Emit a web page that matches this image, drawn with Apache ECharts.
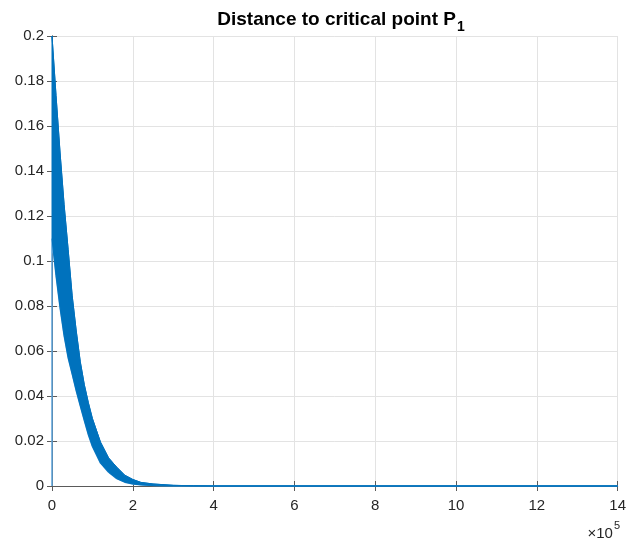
<html>
  <head>
    <meta charset="utf-8">
    <title>Distance to critical point</title>
    <script src="https://cdn.jsdelivr.net/npm/echarts@6.0.0/dist/echarts.min.js"></script>
    <style>
      html, body { margin: 0; padding: 0; background: #fff; }
      #main { width: 629px; height: 546px; }
    </style>
  </head>
  <body>
    <div id="main"></div>
    <script type="text/javascript">
      // x in units of 1e5
      var xs    = [0, 0.1, 0.2, 0.3, 0.4, 0.5, 0.6, 0.7, 0.8, 0.9, 1.0, 1.2, 1.4, 1.6, 1.8, 2.0, 2.2, 2.5, 3.0, 3.5, 4.0, 14];
      // upper / lower envelope of the oscillating distance
      var upper = [0.2, 0.1735, 0.148, 0.125, 0.105, 0.0845, 0.0689, 0.0552, 0.045, 0.037, 0.030, 0.0195, 0.0125, 0.0084, 0.0048, 0.0029, 0.0016, 0.0009, 0.0003, 0.0001, 0, 0];
      var lower = [0.11, 0.0936, 0.0792, 0.0668, 0.057, 0.0497, 0.0423, 0.0356, 0.0291, 0.0228, 0.0176, 0.0102, 0.0061, 0.0033, 0.0017, 0.0009, 0.0005, 0.0002, 0, 0, 0, 0];
      var xTicks = [0, 2, 4, 6, 8, 10, 12, 14];
      var yTicks = [0, 0.02, 0.04, 0.06, 0.08, 0.1, 0.12, 0.14, 0.16, 0.18, 0.2];

      var upperPts = xs.map(function (x, i) { return [x, upper[i]]; });
      var lowerPts = [[0, 0]].concat(xs.map(function (x, i) { return [x, lower[i]]; }));

      var txt = '#262626';
      var axisCol = '#5a5a5a';
      var gridCol = '#e3e3e3';
      var font = 'Liberation Sans';

      var chartDom = document.getElementById('main');
      var myChart = echarts.init(chartDom);
      var option;

      option = {
        animation: false,
        title: {
          text: '{a|Distance to critical point P}{s|1}',
          left: 336,
          textAlign: 'center',
          top: 1,
          textStyle: {
            rich: {
              a: { fontFamily: font, fontSize: 19, fontWeight: 'bold', color: '#000', lineHeight: 22 },
              s: { fontFamily: font, fontSize: 14, fontWeight: 'bold', color: '#000', padding: [14, 0, 0, 1] }
            }
          }
        },
        grid: { left: 52, right: 9, top: 36, bottom: 60 },
        xAxis: [
          {
            type: 'value', min: 0, max: 14, interval: 2,
            axisLine: { lineStyle: { color: axisCol, width: 1 } },
            axisTick: { inside: true, length: 5, lineStyle: { color: axisCol } },
            axisLabel: { color: txt, fontFamily: font, fontSize: 15, margin: 12,
              formatter: function (v) { return xTicks.indexOf(v) >= 0 ? String(v) : ''; } },
            splitLine: { show: true, lineStyle: { color: gridCol } }
          },
          {
            type: 'value', position: 'top', min: 0, max: 14, interval: 2,
            axisLine: { lineStyle: { color: axisCol } },
            axisTick: { inside: true, length: 5, lineStyle: { color: axisCol } },
            axisLabel: { show: false }, splitLine: { show: false }
          }
        ],
        yAxis: [
          {
            type: 'value', min: 0, max: 0.2, interval: 0.02,
            axisLine: { show: true, lineStyle: { color: axisCol } },
            axisTick: { show: true, inside: true, length: 5, lineStyle: { color: axisCol } },
            axisLabel: { color: txt, fontFamily: font, fontSize: 15, margin: 8,
              formatter: function (v) {
                var r = Math.round(v * 100) / 100;
                return yTicks.some(function (t) { return Math.abs(t - r) < 1e-9; }) ? String(r) : '';
              } },
            splitLine: { show: true, lineStyle: { color: gridCol } }
          },
          {
            type: 'value', position: 'right', min: 0, max: 0.2, interval: 0.02,
            axisLine: { show: true, lineStyle: { color: axisCol } },
            axisTick: { show: true, inside: true, length: 5, lineStyle: { color: axisCol } },
            axisLabel: { show: false }, splitLine: { show: false }
          }
        ],
        graphic: [
          {
            type: 'text', right: 9, top: 520,
            style: {
              text: '{a|\u00d710}{b|5}',
              rich: {
                a: { fontFamily: font, fontSize: 15, fill: txt, padding: [8, 0, 0, 0] },
                b: { fontFamily: font, fontSize: 11, fill: txt, padding: [0, 0, 8, 1] }
              }
            }
          }
        ],
        series: [
          {
            name: 'lower',
            type: 'line',
            data: lowerPts,
            showSymbol: false,
            lineStyle: { color: '#5aa2da', width: 1.5 },
            z: 2
          },
          {
            name: 'band',
            type: 'custom',
            xAxisIndex: 0, yAxisIndex: 0,
            data: [0],
            renderItem: function (params, api) {
              var pts = [];
              for (var i = 0; i < xs.length; i++) pts.push(api.coord([xs[i], upper[i]]));
              for (var j = xs.length - 1; j >= 0; j--) pts.push(api.coord([xs[j], lower[j]]));
              return {
                type: 'polygon',
                shape: { points: pts },
                style: { fill: '#0072BD', stroke: '#0072BD', lineWidth: 1 }
              };
            },
            z: 3
          },
          {
            name: 'upper',
            type: 'line',
            data: upperPts,
            showSymbol: false,
            lineStyle: { color: '#0072BD', width: 1 },
            z: 4
          }
        ]
      };

      option && myChart.setOption(option);
    </script>
  </body>
</html>
